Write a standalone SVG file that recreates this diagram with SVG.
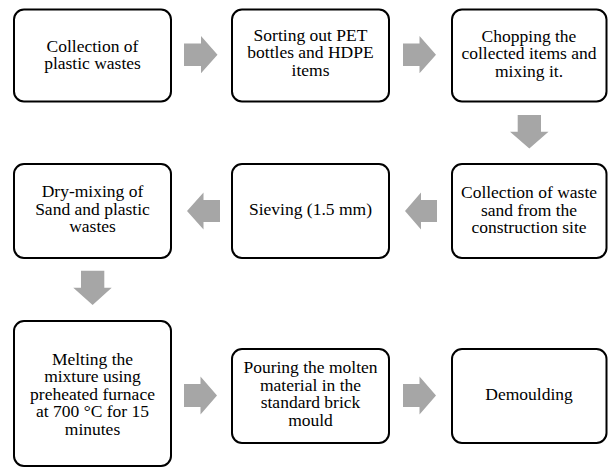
<svg xmlns="http://www.w3.org/2000/svg" width="608" height="468" viewBox="0 0 608 468">
<style>
.box{fill:#fff;stroke:#000;stroke-width:2}
.arr{fill:#a6a6a6;stroke:none}
text{font-size:17.5px;fill:#000;text-anchor:middle}
</style>
<rect width="608" height="468" fill="#fff"/>
<g font-family="Times New Roman, Liberation Serif, Tinos, Noto Serif, DejaVu Serif, FreeSerif, serif">
<g id="n1"><rect class="box" x="14" y="9.5" width="157" height="92" rx="10"/>
<text x="92.5" y="51.5">Collection of</text><text x="92.5" y="69">plastic wastes</text></g>
<g id="n2"><rect class="box" x="232" y="9.5" width="157" height="92" rx="10"/>
<text x="310.5" y="40.7">Sorting out PET</text><text x="310.5" y="58.3">bottles and HDPE</text><text x="310.5" y="76">items</text></g>
<g id="n3"><rect class="box" x="452" y="9.5" width="154.5" height="92" rx="10"/>
<text x="529" y="41.5">Chopping the</text><text x="529" y="59">collected items and</text><text x="529" y="76.7">mixing it.</text></g>
<g id="n4"><rect class="box" x="452" y="164" width="154.5" height="94" rx="10"/>
<text x="529" y="198">Collection of waste</text><text x="529" y="215.6">sand from the</text><text x="529" y="233.2">construction site</text></g>
<g id="n5"><rect class="box" x="232" y="164" width="157" height="94" rx="10"/>
<text x="310.5" y="215">Sieving (1.5 mm)</text></g>
<g id="n6"><rect class="box" x="14" y="164" width="157" height="94" rx="10"/>
<text x="92.5" y="197">Dry-mixing of</text><text x="92.5" y="214.6">Sand and plastic</text><text x="92.5" y="232.2">wastes</text></g>
<g id="n7"><rect class="box" x="14" y="321" width="157" height="145" rx="10"/>
<text x="92.5" y="364.5">Melting the</text><text x="92.5" y="382">mixture using</text><text x="92.5" y="399.5">preheated furnace</text><text x="92.5" y="417">at 700 °C for 15</text><text x="92.5" y="434.5">minutes</text></g>
<g id="n8"><rect class="box" x="232" y="349" width="157" height="94" rx="10"/>
<text x="310.5" y="373">Pouring the molten</text><text x="310.5" y="390.5">material in the</text><text x="310.5" y="408">standard brick</text><text x="310.5" y="425.5">mould</text></g>
<g id="n9"><rect class="box" x="452" y="349" width="154.5" height="94" rx="10"/>
<text x="529" y="400">Demoulding</text></g>
</g>
<g id="connectors">
<polygon class="arr" points="184,43.5 201,43.5 201,36 217.5,54.7 201,73.3 201,66 184,66"/>
<polygon class="arr" points="403,43.5 419.5,43.5 419.5,36 436,54.7 419.5,73.3 419.5,66 403,66"/>
<polygon class="arr" points="517.7,115 541,115 541,131.7 548.5,131.7 529.3,148.5 510,131.7 517.7,131.7"/>
<polygon class="arr" points="437,200 421,200 421,192.5 405,211 421,229.5 421,222 437,222"/>
<polygon class="arr" points="220,200 203.5,200 203.5,192.5 187,211 203.5,229.5 203.5,222 220,222"/>
<polygon class="arr" points="81,270.7 104.3,270.7 104.3,287.7 111.7,287.7 92.6,305 73.3,287.7 81,287.7"/>
<polygon class="arr" points="184,384 200.5,384 200.5,376.5 217,395.5 200.5,414.5 200.5,407 184,407"/>
<polygon class="arr" points="403,384 419.5,384 419.5,376.5 436,395.5 419.5,414.5 419.5,407 403,407"/>
</g>
</svg>
